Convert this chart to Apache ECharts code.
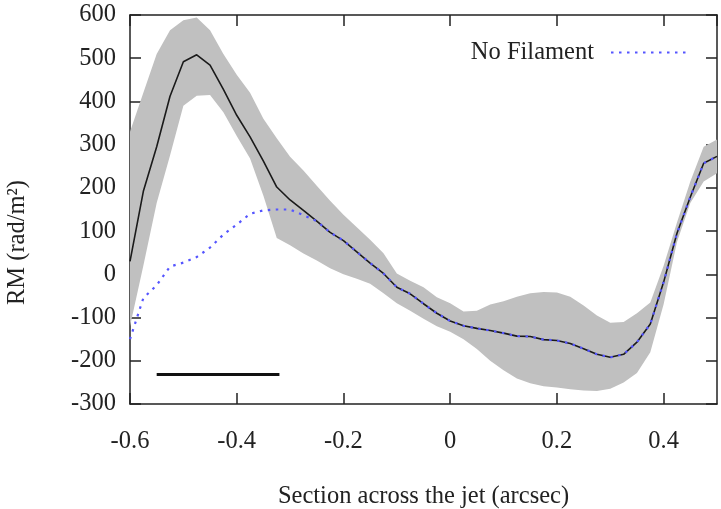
<!DOCTYPE html>
<html>
<head>
<meta charset="utf-8">
<script src="https://cdn.jsdelivr.net/npm/echarts@6/dist/echarts.min.js"></script>
<style>
  html, body { margin: 0; padding: 0; background: #fff; }
  #chart { width: 721px; height: 509px; }
</style>
</head>
<body>
<div id="chart"></div>
<script>
// ---- data ----
const xs = [-0.6, -0.575, -0.55, -0.525, -0.5, -0.475, -0.45, -0.425, -0.4, -0.375, -0.35, -0.325, -0.3, -0.275, -0.25, -0.225, -0.2, -0.175, -0.15, -0.125, -0.1, -0.075, -0.05, -0.025, 0, 0.025, 0.05, 0.075, 0.1, 0.125, 0.15, 0.175, 0.2, 0.225, 0.25, 0.275, 0.3, 0.325, 0.35, 0.375, 0.4, 0.425, 0.45, 0.475, 0.5];
const filament = [30, 192, 295, 412, 492, 508, 484, 428, 368, 318, 262, 202, 172, 148, 123, 97, 78, 52, 26, 2, -30, -45, -68, -90, -108, -119, -125, -130, -136, -143, -144, -151, -153, -160, -172, -185, -192, -185, -157, -115, -18, 95, 179, 257, 273];
const noFilament = [-150, -55, -25, 18, 27, 40, 62, 92, 115, 140, 148, 150, 150, 137, 123, 97, 78, 52, 26, 2, -30, -45, -68, -90, -108, -119, -125, -130, -136, -143, -144, -151, -153, -160, -172, -185, -192, -185, -157, -115, -18, 95, 179, 257, 273];
const bandUpper = [330, 420, 510, 565, 588, 594, 565, 510, 462, 420, 360, 315, 272, 240, 205, 170, 138, 109, 80, 49, 2, -15, -30, -53, -67, -86, -84, -70, -62, -52, -44, -41, -42, -52, -72, -95, -112, -110, -90, -65, 20, 120, 215, 295, 312];
const bandLower = [-120, 20, 165, 275, 390, 413, 415, 375, 320, 268, 182, 84, 67, 48, 32, 14, 0, -10, -22, -44, -67, -84, -103, -120, -133, -150, -173, -200, -222, -241, -252, -259, -262, -266, -269, -270, -265, -250, -228, -180, -69, 75, 165, 215, 234];
const scaleBarX = [-0.55, -0.32];
const scaleBarY = [-232, -232];
const legendNames = ['No Filament'];
const xTitle = 'Section across the jet (arcsec)';
const yTitle = 'RM (rad/m\u00B2)';

// ---- chart ----
const FONT = 'Liberation Serif';
const FS = 24.5;
const INK = '#222';
const chart = echarts.init(document.getElementById('chart'), null, { renderer: 'canvas' });

function axisCommon() {
  return {
    axisLine: { show: true, onZero: false, lineStyle: { color: INK, width: 1.5 } },
    axisTick: { show: true, inside: true, length: 11, lineStyle: { color: INK, width: 1.5 } },
    splitLine: { show: false }
  };
}

const option = {
  backgroundColor: '#fff',
  animation: false,
  textStyle: { fontFamily: FONT },
  grid: { left: 130, right: 4, top: 15, bottom: 105, containLabel: false, outerBoundsMode: 'none' },
  legend: {
    data: legendNames,
    right: 29,
    top: 35,
    align: 'right',
    itemWidth: 75,
    itemHeight: 14,
    itemStyle: { color: 'rgba(0,0,0,0)', borderWidth: 0, opacity: 0 },
    textStyle: { fontFamily: FONT, fontSize: FS, color: INK, padding: [0, 12, 0, 0] }
  },
  xAxis: [
    Object.assign({
      type: 'value', min: -0.6, max: 0.5, interval: 0.2, position: 'bottom',
      name: xTitle, nameLocation: 'middle', nameGap: 80,
      nameTextStyle: { fontFamily: FONT, fontSize: FS, color: INK },
      axisLabel: { fontFamily: FONT, fontSize: FS, color: INK, margin: 25,
        formatter: v => (Math.round(v * 10) / 10).toString(), showMaxLabel: false }
    }, axisCommon()),
    Object.assign({
      type: 'value', min: -0.6, max: 0.5, interval: 0.2, position: 'top',
      axisLabel: { show: false }
    }, axisCommon())
  ],
  yAxis: [
    Object.assign({
      type: 'value', min: -300, max: 600, interval: 100, position: 'left',
      name: yTitle, nameLocation: 'middle', nameGap: 100, nameRotate: 90,
      nameTextStyle: { fontFamily: FONT, fontSize: FS, color: INK, padding: [0, 66, 0, 0] },
      axisLabel: { fontFamily: FONT, fontSize: FS, color: INK, margin: 14 }
    }, axisCommon()),
    Object.assign({
      type: 'value', min: -300, max: 600, interval: 100, position: 'right',
      axisLabel: { show: false }
    }, axisCommon())
  ],
  series: [
    {
      name: 'band',
      type: 'custom',
      silent: true,
      clip: true,
      z: 1,
      data: xs.map((x, i) => [x, bandUpper[i], bandLower[i]]),
      encode: { x: 0, y: [1, 2] },
      renderItem: function (params, api) {
        if (params.dataIndex !== 0) return null;
        const pts = [];
        for (let i = 0; i < xs.length; i++) pts.push(api.coord([xs[i], bandUpper[i]]));
        for (let i = xs.length - 1; i >= 0; i--) pts.push(api.coord([xs[i], bandLower[i]]));
        return { type: 'polygon', shape: { points: pts }, style: { fill: '#c0c0c0', stroke: null } };
      }
    },
    {
      name: 'Filament',
      type: 'line',
      z: 3,
      symbol: 'none',
      data: xs.map((x, i) => [x, filament[i]]),
      lineStyle: { color: '#1a1a1a', width: 1.6 }
    },
    {
      name: 'No Filament',
      type: 'line',
      z: 4,
      symbol: 'none',
      data: xs.map((x, i) => [x, noFilament[i]]),
      itemStyle: { color: '#5555ff' },
      lineStyle: { color: '#5555ff', width: 2.2, type: [2.5, 5.5] }
    },
    {
      name: 'scale',
      type: 'line',
      z: 5,
      symbol: 'none',
      silent: true,
      data: scaleBarX.map((x, i) => [x, scaleBarY[i]]),
      lineStyle: { color: '#111', width: 3 }
    }
  ]
};
chart.setOption(option);
</script>
</body>
</html>
